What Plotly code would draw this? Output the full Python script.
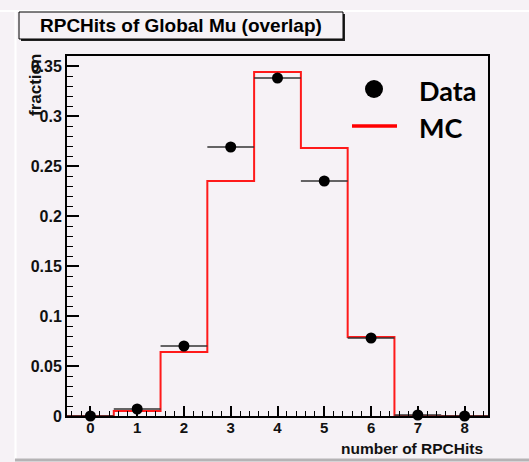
import plotly.graph_objects as go

# Histogram contents: fraction of global muons per number of RPC hits
n_hits = [0, 1, 2, 3, 4, 5, 6, 7, 8]
data_frac = [0.0, 0.007, 0.070, 0.269, 0.338, 0.235, 0.078, 0.001, 0.0]
mc_frac = [0.0, 0.005, 0.064, 0.235, 0.344, 0.268, 0.079, 0.0, 0.0]
bin_half_width = [0.5] * len(n_hits)

y_tick_vals = [0, 0.05, 0.1, 0.15, 0.2, 0.25, 0.3, 0.35]
y_tick_text = ["0", "0.05", "0.1", "0.15", "0.2", "0.25", "0.3", "0.35"]
x_tick_vals = n_hits
x_tick_text = [str(v) for v in n_hits]

W, H = 529, 462
L, R, T, B = 67, 488, 56, 416
BG = "#f6f2f6"
FONT = "Liberation Sans"


def px(x):
    return (x - L) / (R - L)


def py(y):
    return (B - y) / (B - T)


# step outline for the MC histogram (bin edges)
mc_x = [c - 0.5 for c in n_hits] + [n_hits[-1] + 0.5]
mc_y = mc_frac + [mc_frac[-1]]

fig = go.Figure()
fig.add_trace(go.Scatter(
    x=mc_x, y=mc_y, mode="lines", line=dict(color="#ff1a1a", width=2, shape="hv"),
    showlegend=False, cliponaxis=True,
))
fig.add_trace(go.Scatter(
    x=n_hits, y=data_frac, mode="markers",
    marker=dict(color="black", size=11),
    error_x=dict(type="data", array=bin_half_width, symmetric=True,
                 color="#333333", thickness=1.5, width=0),
    showlegend=False, cliponaxis=False,
))

axis_common = dict(
    showgrid=False, zeroline=False, showline=True, linecolor="black",
    linewidth=2, mirror=True, ticks="inside", tickcolor="black", tickwidth=1.5,
)

fig.update_xaxes(
    range=[-0.5, 8.5], tickmode="array", tickvals=x_tick_vals, ticktext=x_tick_text,
    ticklen=10, ticklabelstandoff=-3,
    tickfont=dict(family=FONT, size=15, color="#111", weight="bold"),
    minor=dict(dtick=0.2, ticklen=5, ticks="inside", tickcolor="black", tickwidth=1.2),
    **axis_common,
)
fig.update_yaxes(
    range=[0, 0.36], tickmode="array", tickvals=y_tick_vals, ticktext=y_tick_text,
    ticklen=12, tickfont=dict(family=FONT, size=16, color="#111", weight="bold"),
    minor=dict(dtick=0.01, ticklen=6, ticks="inside", tickcolor="black", tickwidth=1.2),
    **axis_common,
)

shapes = [
    # canvas edges
    dict(type="line", xref="paper", yref="paper", x0=px(0), x1=px(W), y0=py(11), y1=py(11),
         line=dict(color="white", width=2)),
    dict(type="line", xref="paper", yref="paper", x0=px(15.5), x1=px(15.5), y0=py(11), y1=py(459),
         line=dict(color="white", width=2)),
    dict(type="line", xref="paper", yref="paper", x0=px(15), x1=px(W), y0=py(460), y1=py(460),
         line=dict(color="#b5b3b5", width=3)),
    # title box shadow and box
    dict(type="rect", xref="paper", yref="paper", x0=px(21), x1=px(345), y0=py(14), y1=py(41),
         fillcolor="#222222", line=dict(width=0)),
    dict(type="rect", xref="paper", yref="paper", x0=px(19), x1=px(343), y0=py(12), y1=py(39),
         fillcolor=BG, line=dict(color="black", width=1)),
    # legend symbols
    dict(type="circle", xref="paper", yref="paper", x0=px(365), x1=px(383), y0=py(80), y1=py(98),
         fillcolor="black", line=dict(width=0)),
    dict(type="line", xref="paper", yref="paper", x0=px(352), x1=px(397), y0=py(126), y1=py(126),
         line=dict(color="#ff0000", width=3.5)),
]

annotations = [
    dict(text="RPCHits of Global Mu (overlap)", xref="paper", yref="paper",
         x=px(181), y=py(25.5), xanchor="center", yanchor="middle", showarrow=False,
         font=dict(family=FONT, size=19, color="black", weight="bold")),
    dict(text="fraction", xref="paper", yref="paper", x=px(35), y=py(52),
         xanchor="center", yanchor="top", textangle=-90, showarrow=False,
         font=dict(family=FONT, size=17, color="#111", weight="bold")),
    dict(text="number of RPCHits", xref="paper", yref="paper", x=px(485), y=py(449),
         xanchor="right", yanchor="middle", showarrow=False,
         font=dict(family=FONT, size=15.5, color="#111", weight="bold")),
    dict(text="Data", xref="paper", yref="paper", x=px(417), y=py(90),
         xanchor="left", yanchor="middle", showarrow=False,
         font=dict(family="Lato", size=27, color="black", weight="bold")),
    dict(text="MC", xref="paper", yref="paper", x=px(417), y=py(128),
         xanchor="left", yanchor="middle", showarrow=False,
         font=dict(family="Lato", size=27, color="black", weight="bold")),
]

fig.update_layout(
    width=W, height=H,
    margin=dict(l=L, r=W - R, t=T, b=H - B),
    paper_bgcolor=BG, plot_bgcolor=BG,
    shapes=shapes, annotations=annotations,
    showlegend=False,
)

fig.write_html("out.html")
